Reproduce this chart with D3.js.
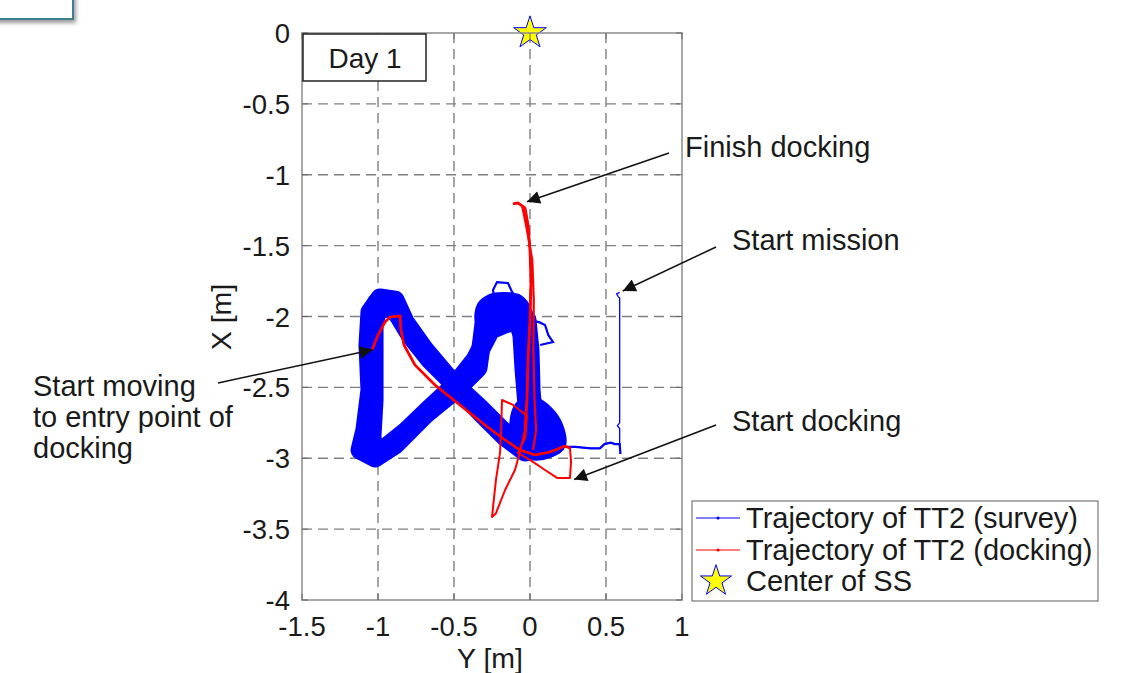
<!DOCTYPE html>
<html><head><meta charset="utf-8">
<script src="https://cdn.jsdelivr.net/npm/d3@7"></script>
<style>body{margin:0;background:#fff}svg{display:block}text{font-family:"Liberation Sans",Arial,sans-serif;fill:#1a1a1a}</style>
</head><body><svg id="c" width="1124" height="673"></svg>
<script>
// ---- data (Y [m], X [m]) ----
const xTickVals = [-1.5,-1,-0.5,0,0.5,1];
const xTickLabels = ["-1.5","-1","-0.5","0","0.5","1"];
const yTickVals = [0,-0.5,-1,-1.5,-2,-2.5,-3,-3.5,-4];
const yTickLabels = ["0","-0.5","-1","-1.5","-2","-2.5","-3","-3.5","-4"];

// survey: approach from start point
const surveyStart = [[0.59,-1.83],[0.57,-1.84],[0.58,-1.86],[0.59,-1.87],[0.59,-2.40],[0.59,-2.75],[0.575,-2.77],[0.59,-2.79],[0.59,-2.92],[0.595,-2.97],[0.59,-2.90],[0.56,-2.90],[0.53,-2.89],[0.49,-2.90],[0.46,-2.93],[0.40,-2.93],[0.30,-2.92],[0.20,-2.92]];
// survey: figure-eight laps (centre lines of the dense band)
const surveyLap1 = [[0.066,-2.836],[-0.099,-2.892],[-0.197,-2.787],[-0.329,-2.646],[-0.493,-2.483],[-0.658,-2.307],[-0.789,-2.131],[-0.868,-1.990],[-0.934,-1.919],[-1.000,-1.940],[-1.026,-2.060],[-1.026,-2.307],[-1.026,-2.589],[-1.039,-2.836],[-1.039,-2.942],[-0.954,-2.928],[-0.822,-2.815],[-0.658,-2.646],[-0.493,-2.483],[-0.362,-2.307],[-0.276,-2.131],[-0.230,-1.990],[-0.164,-1.919],[-0.079,-1.926],[-0.020,-2.025],[0.000,-2.236],[0.007,-2.519],[0.020,-2.695],[0.066,-2.836]];
const surveyLap2 = [[0.164,-2.907],[-0.033,-2.956],[-0.164,-2.850],[-0.316,-2.688],[-0.513,-2.462],[-0.691,-2.236],[-0.822,-2.039],[-0.888,-1.884],[-0.987,-1.869],[-1.053,-1.968],[-1.066,-2.201],[-1.053,-2.519],[-1.086,-2.801],[-1.118,-2.942],[-1.020,-2.998],[-0.888,-2.907],[-0.691,-2.695],[-0.474,-2.504],[-0.342,-2.363],[-0.316,-2.166],[-0.296,-1.990],[-0.197,-1.905],[-0.099,-1.961],[-0.053,-2.131],[-0.039,-2.377],[-0.020,-2.624],[0.033,-2.765],[0.151,-2.801],[0.164,-2.907]];
const surveyBlobBottomRight = [[-0.079,-2.624],[0.033,-2.589],[0.132,-2.660],[0.197,-2.765],[0.217,-2.907],[0.132,-2.977],[0.000,-2.991],[-0.099,-2.928],[-0.118,-2.765]];
const surveyBlobTopRight = [[-0.329,-1.919],[-0.263,-1.862],[-0.164,-1.848],[-0.066,-1.869],[-0.013,-1.954],[-0.039,-2.060],[-0.145,-2.095],[-0.263,-2.131],[-0.342,-2.039]];
const surveyBlobTopLeft = [[-1.040,-1.870],[-0.900,-1.855],[-0.830,-1.940],[-0.960,-1.990],[-1.050,-1.960]];
const surveyBlobBottomLeft = [[-1.130,-2.880],[-1.020,-2.860],[-0.930,-2.950],[-1.020,-3.010],[-1.140,-2.960]];
const surveyExcursion1 = [[-0.230,-1.919],[-0.243,-1.813],[-0.217,-1.757],[-0.145,-1.764],[-0.118,-1.827],[-0.079,-1.884]];
const surveyExcursion2 = [[-0.013,-2.025],[0.060,-2.040],[0.099,-2.060],[0.120,-2.130],[0.151,-2.180],[0.066,-2.201]];

// docking trajectory
const dockingPath = [[-1.039,-2.236],[-1.000,-2.131],[-0.954,-2.039],[-0.921,-2.004],[-0.855,-1.996],[-0.849,-2.095],[-0.829,-2.201],[-0.757,-2.342],[-0.625,-2.483],[-0.461,-2.624],[-0.296,-2.765],[-0.164,-2.871],[-0.066,-2.942],[0.033,-2.977],[0.132,-2.956],[0.230,-2.914],[0.263,-2.928],[0.270,-3.026],[0.263,-3.139],[0.178,-3.139],[0.099,-3.083],[0.000,-3.012],[-0.079,-2.963],[-0.030,-2.850],[-0.020,-2.702],[-0.112,-2.624],[-0.184,-2.589],[-0.190,-2.800],[-0.197,-2.960],[-0.224,-3.153],[-0.250,-3.414],[-0.225,-3.390],[-0.164,-3.224],[-0.099,-3.083],[-0.066,-2.956],[-0.033,-2.801],[-0.020,-2.589],[-0.013,-2.307],[0.000,-2.025],[0.007,-1.743],[0.000,-1.531],[-0.013,-1.355],[-0.033,-1.235],[-0.079,-1.199],[-0.112,-1.206]];
const dockingStrand2 = [[-0.053,-1.213],[-0.026,-1.355],[0.015,-1.601],[0.025,-1.884],[0.022,-2.236],[0.030,-2.589],[0.040,-2.801],[0.020,-2.942]];

const stationCenter = [[0,0]];

// annotations: label lines, label anchor (px), arrow tail (px), arrow tip (data)
const annotations = [
  {lines:["Finish docking"], x:685, y:157, tail:[669,153], tip:[-0.02,-1.19]},
  {lines:["Start mission"], x:732, y:250, tail:[716,247], tip:[0.61,-1.82]},
  {lines:["Start docking"], x:732, y:431, tail:[716,425], tip:[0.29,-3.15]},
  {lines:["Start moving","to entry point of","docking"], x:33, y:396, tail:[218,383], tip:[-1.035,-2.235]}
];
const legendLabels = ["Trajectory of TT2 (survey)","Trajectory of TT2 (docking)","Center of SS"];

// ---- drawing ----
const svg = d3.select("#c");
const x = d3.scaleLinear().domain([-1.5,1]).range([302,682]);
const y = d3.scaleLinear().domain([-4,0]).range([600,33]);
const line = d3.line().x(d=>x(d[0])).y(d=>y(d[1]));
const blobLine = d3.line().x(d=>x(d[0])).y(d=>y(d[1])).curve(d3.curveCatmullRomClosed);

// top-left stray box
const defs = svg.append("defs");
const f = defs.append("filter").attr("id","sh").attr("x","-20%").attr("y","-20%").attr("width","150%").attr("height","180%");
f.append("feDropShadow").attr("dx",2).attr("dy",3).attr("stdDeviation",2).attr("flood-color","#555").attr("flood-opacity",0.6);
svg.append("rect").attr("x",-6).attr("y",-6).attr("width",79).attr("height",25).attr("fill","#fff").attr("stroke","#3d7f8e").attr("stroke-width",2).attr("filter","url(#sh)");

defs.append("marker").attr("id","ah").attr("viewBox","0 0 10 10").attr("refX",10).attr("refY",5)
  .attr("markerWidth",19).attr("markerHeight",13).attr("markerUnits","userSpaceOnUse").attr("orient","auto")
  .append("path").attr("d","M0,0 L10,5 L0,10 z").attr("fill","#111");

// grid
const g = svg.append("g");
g.selectAll(".gx").data(xTickVals.slice(1,-1)).join("line")
  .attr("x1",d=>x(d)).attr("x2",d=>x(d)).attr("y1",y(0)).attr("y2",y(-4))
  .attr("stroke","#808080").attr("stroke-width",1.4).attr("stroke-dasharray","10,6");
g.selectAll(".gy").data(yTickVals.slice(1,-1)).join("line")
  .attr("y1",d=>y(d)).attr("y2",d=>y(d)).attr("x1",x(-1.5)).attr("x2",x(1))
  .attr("stroke","#808080").attr("stroke-width",1.4).attr("stroke-dasharray","10,6");

// survey
const blue = "#0000ff";
[surveyLap1, surveyLap2].forEach(d=>{
  svg.append("path").attr("d",line(d)).attr("fill","none").attr("stroke",blue)
    .attr("stroke-width",19).attr("stroke-linejoin","round").attr("stroke-linecap","round");
});
[surveyBlobBottomRight, surveyBlobTopRight, surveyBlobTopLeft, surveyBlobBottomLeft].forEach(d=>{
  svg.append("path").attr("d",blobLine(d)).attr("fill",blue).attr("stroke",blue)
    .attr("stroke-width",6).attr("stroke-linejoin","round");
});
[surveyExcursion1, surveyExcursion2].forEach(d=>{
  svg.append("path").attr("d",line(d)).attr("fill","none").attr("stroke",blue).attr("stroke-width",2.2);
});
svg.append("path").attr("d",line(surveyStart)).attr("fill","none").attr("stroke",blue).attr("stroke-width",1.3);
svg.append("path").attr("d",line(surveyStart.slice(9))).attr("fill","none").attr("stroke",blue).attr("stroke-width",2.2);

// docking
const red = "#ff0000";
svg.append("path").attr("d",line(dockingPath)).attr("fill","none").attr("stroke",red).attr("stroke-width",2).attr("stroke-linejoin","round");
svg.append("path").attr("d",line(dockingStrand2)).attr("fill","none").attr("stroke",red).attr("stroke-width",2.2).attr("stroke-linejoin","round");
svg.append("path").attr("d",line(dockingPath.slice(-10))).attr("fill","none").attr("stroke",red).attr("stroke-width",2.8);
svg.append("path").attr("d",line(dockingPath.slice(0,17))).attr("fill","none").attr("stroke",red).attr("stroke-width",2.6);

// star
const star = d3.symbol(d3.symbolStar, 330);
svg.selectAll(".st").data(stationCenter).join("path").attr("d",star)
  .attr("transform",d=>`translate(${x(d[0])},${y(d[1])})`)
  .attr("fill","#ffff00").attr("stroke",blue).attr("stroke-width",1);

// axes box
svg.append("rect").attr("x",x(-1.5)).attr("y",y(0)).attr("width",x(1)-x(-1.5)).attr("height",y(-4)-y(0))
  .attr("fill","none").attr("stroke","#8c8c8c").attr("stroke-width",1.5);
xTickVals.forEach(v=>{
  svg.append("line").attr("x1",x(v)).attr("x2",x(v)).attr("y1",y(-4)).attr("y2",y(-4)-6).attr("stroke","#666");
  svg.append("line").attr("x1",x(v)).attr("x2",x(v)).attr("y1",y(0)).attr("y2",y(0)+6).attr("stroke","#666");
});
yTickVals.forEach(v=>{
  svg.append("line").attr("y1",y(v)).attr("y2",y(v)).attr("x1",x(-1.5)).attr("x2",x(-1.5)+6).attr("stroke","#666");
  svg.append("line").attr("y1",y(v)).attr("y2",y(v)).attr("x1",x(1)).attr("x2",x(1)-6).attr("stroke","#666");
});
svg.selectAll(".xl").data(xTickVals).join("text").attr("x",d=>x(d)).attr("y",636)
  .attr("text-anchor","middle").attr("font-size",27.5).text((d,i)=>xTickLabels[i]);
svg.selectAll(".yl").data(yTickVals).join("text").attr("x",290).attr("y",d=>y(d)+10)
  .attr("text-anchor","end").attr("font-size",27.5).text((d,i)=>yTickLabels[i]);
svg.append("text").attr("x",490).attr("y",668).attr("text-anchor","middle").attr("font-size",28.5).text("Y [m]");
svg.append("text").attr("transform","translate(231,317) rotate(-90)").attr("text-anchor","middle").attr("font-size",28.5).text("X [m]");

// Day 1 box
svg.append("rect").attr("x",x(-1.5)+1).attr("y",y(0)+1).attr("width",123).attr("height",47).attr("fill","#fff").attr("stroke","#222").attr("stroke-width",1.5);
svg.append("text").attr("x",x(-1.5)+63).attr("y",y(0)+35).attr("text-anchor","middle").attr("font-size",28).text("Day 1");

// annotations
annotations.forEach(a=>{
  const t = svg.append("text").attr("font-size",29);
  a.lines.forEach((l,i)=>t.append("tspan").attr("x",a.x).attr("y",a.y+i*31).text(l));
  svg.append("line").attr("x1",a.tail[0]).attr("y1",a.tail[1]).attr("x2",x(a.tip[0])).attr("y2",y(a.tip[1]))
    .attr("stroke","#111").attr("stroke-width",1.5).attr("marker-end","url(#ah)");
});

// legend
const lg = svg.append("g");
lg.append("rect").attr("x",692).attr("y",501).attr("width",406).attr("height",100).attr("fill","#fff").attr("stroke","#777").attr("stroke-width",1.2);
const rows = [{c:blue,y:518},{c:red,y:550},{star:true,y:581}];
rows.forEach((r,i)=>{
  if(r.star){
    lg.append("path").attr("d",d3.symbol(d3.symbolStar,300)()).attr("transform",`translate(716,${r.y})`).attr("fill","#ffff00").attr("stroke",blue);
  } else {
    lg.append("line").attr("x1",696).attr("x2",740).attr("y1",r.y).attr("y2",r.y).attr("stroke",r.c).attr("stroke-width",1.2);
    lg.append("circle").attr("cx",718).attr("cy",r.y).attr("r",1.6).attr("fill",r.c);
  }
  lg.append("text").attr("x",746).attr("y",r.y+10).attr("font-size",29).text(legendLabels[i]);
});
</script></body></html>
